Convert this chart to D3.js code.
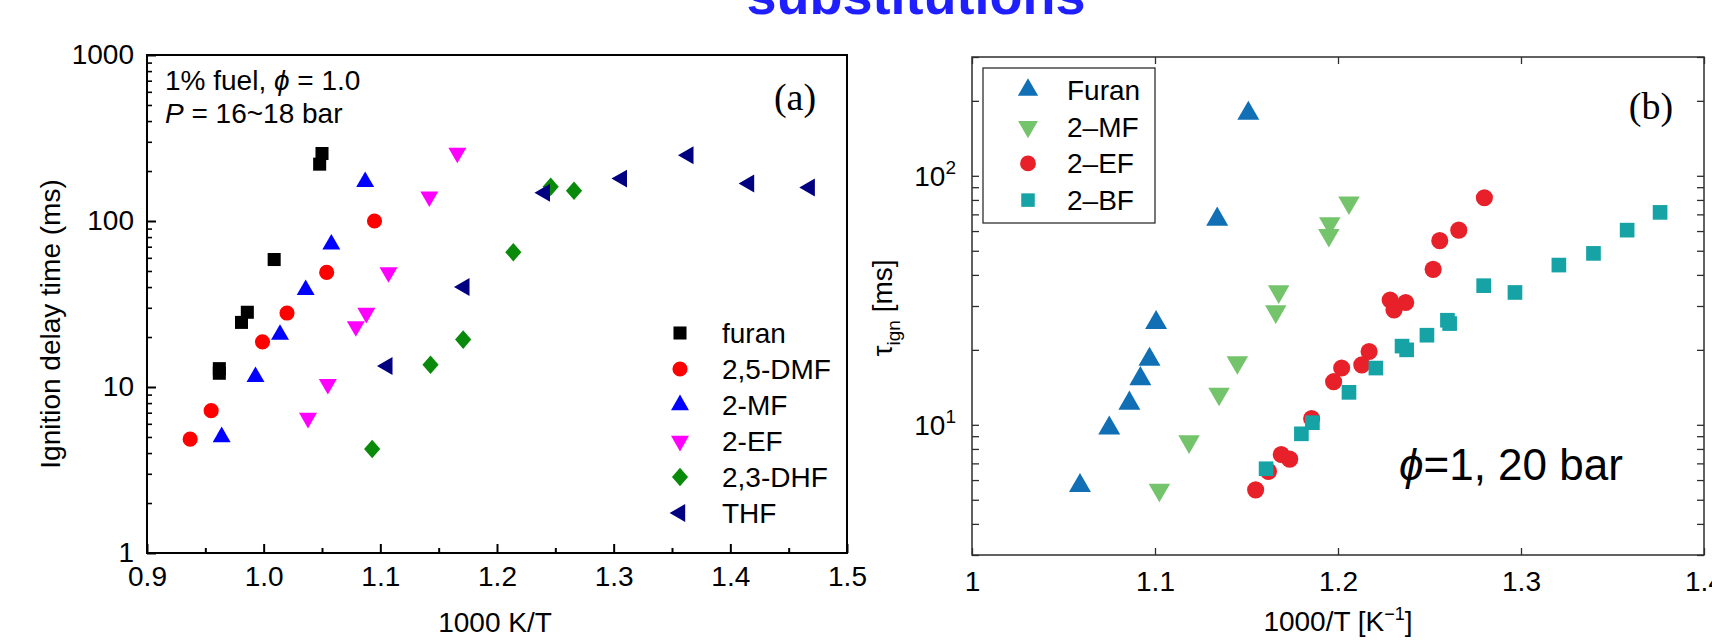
<!DOCTYPE html>
<html>
<head>
<meta charset="utf-8">
<script src="https://cdn.jsdelivr.net/npm/d3@7"></script>
<style>
  body { margin: 0; background: #fff; }
  svg { display: block; }
</style>
</head>
<body>
<script>
// ---- panel (a): ignition delay (ms) vs 1000 K/T ----
const namesA = ["furan", "2,5-DMF", "2-MF", "2-EF", "2,3-DHF", "THF"];
const furanA = [[1.050, 255], [1.048, 220], [1.009, 58.6], [0.986, 28.2], [0.981, 24.5], [0.962, 12.9], [0.962, 12.1]];
const dmfA   = [[1.095, 100], [1.054, 49], [1.020, 27.9], [0.999, 18.7], [0.955, 7.2], [0.937, 4.85]];
const mfA    = [[1.087, 172], [1.058, 72.4], [1.036, 38.5], [1.014, 20.7], [0.993, 11.5], [0.964, 5.0]];
const efA    = [[1.166, 257], [1.142, 140], [1.107, 49], [1.088, 27.9], [1.079, 23.2], [1.055, 10.4], [1.038, 6.5]];
const dhfA   = [[1.246, 161], [1.266, 152], [1.214, 64.9], [1.171, 19.3], [1.143, 13.6], [1.093, 4.23]];
const thfA   = [[1.364, 249], [1.307, 180], [1.241, 148], [1.416, 168], [1.468, 159], [1.172, 40], [1.106, 13.4]];
const xTicksA = [0.9, 1.0, 1.1, 1.2, 1.3, 1.4, 1.5];
const xMinorA = [0.95, 1.05, 1.15, 1.25, 1.35, 1.45];
const yTicksA = [1, 10, 100, 1000];
const yMinorA = [2, 3, 4, 5, 6, 7, 8, 9, 20, 30, 40, 50, 60, 70, 80, 90, 200, 300, 400, 500, 600, 700, 800, 900];

// ---- panel (b): tau_ign (ms) vs 1000/T ----
const namesB = ["Furan", "2\u2013MF", "2\u2013EF", "2\u2013BF"];
const furanB = [[1.151, 178], [1.134, 66.9], [1.1006, 25.7], [1.097, 18.3], [1.092, 15.3], [1.086, 12.2], [1.075, 9.7], [1.059, 5.7]];
const mfB    = [[1.206, 78], [1.1955, 64.4], [1.195, 57.8], [1.1676, 34.3], [1.166, 28.5], [1.145, 17.8], [1.135, 13.3], [1.1186, 8.57], [1.1024, 5.48]];
const efB    = [[1.280, 81.6], [1.266, 60.5], [1.2556, 54.9], [1.252, 42.1], [1.2285, 31.7], [1.237, 31.0], [1.2306, 28.9],
                [1.217, 19.7], [1.213, 17.4], [1.202, 16.9], [1.1976, 14.9], [1.1856, 10.6], [1.1736, 7.28], [1.169, 7.6],
                [1.162, 6.5], [1.155, 5.48]];
const bfB    = [[1.376, 71.3], [1.358, 60.5], [1.3396, 48.8], [1.3207, 43.8], [1.2967, 34.0], [1.2796, 36.2], [1.2598, 26.3],
                [1.261, 25.5], [1.2486, 22.9], [1.2375, 20.0], [1.235, 20.7], [1.2207, 16.9], [1.206, 13.5], [1.186, 10.2],
                [1.180, 9.2], [1.1607, 6.66]];
const xTicksB = [1, 1.1, 1.2, 1.3, 1.4];
const yTicksB = [10, 100];
const yMinorB = [3, 4, 5, 6, 7, 8, 9, 20, 30, 40, 50, 60, 70, 80, 90, 200, 300];

const FONT = "'Liberation Sans', Arial, Helvetica, sans-serif";
const SERIF = "'Liberation Serif', 'Times New Roman', serif";

const svg = d3.select("body").append("svg")
    .attr("width", 1712)
    .attr("height", 640);

// slide title, cut off at the top edge
svg.append("text")
    .attr("x", 916).attr("y", 14)
    .attr("text-anchor", "middle")
    .attr("font-family", FONT)
    .attr("font-weight", "bold")
    .attr("font-size", 54)
    .attr("fill", "#1e1eff")
    .text("substitutions");

// diamond a bit taller than wide
const tallDiamond = {
    draw(ctx, size) {
        const a = Math.sqrt(size / 2.3), b = a * 1.15;
        ctx.moveTo(0, -b); ctx.lineTo(a, 0); ctx.lineTo(0, b); ctx.lineTo(-a, 0); ctx.closePath();
    }
};

function styleAxis(g, size) {
    g.attr("font-family", FONT).attr("font-size", size);
    g.select(".domain").remove();
    g.selectAll("text").attr("fill", "#000");
}

// ================= panel (a) =================
const xA = d3.scaleLinear().domain([0.9, 1.5]).range([147, 847]);
const yA = d3.scaleLog().domain([1, 1000]).range([553, 55]);

const ga = svg.append("g");

ga.append("g")
    .attr("transform", `translate(0, ${yA(1)})`)
    .call(d3.axisBottom(xA).tickValues(xTicksA).tickFormat(d3.format(".1f")).tickSize(-9).tickPadding(13))
    .call(g => styleAxis(g, 28))
    .call(g => g.selectAll("line").attr("stroke", "#000").attr("stroke-width", 2));
ga.append("g")
    .attr("transform", `translate(0, ${yA(1)})`)
    .call(d3.axisBottom(xA).tickValues(xMinorA).tickFormat("").tickSize(-5))
    .call(g => styleAxis(g, 28))
    .call(g => g.selectAll("line").attr("stroke", "#000").attr("stroke-width", 2));

ga.append("g")
    .attr("transform", `translate(${xA(0.9)}, 0)`)
    .call(d3.axisLeft(yA).tickValues(yTicksA).tickFormat(d3.format("d")).tickSize(-9).tickPadding(13))
    .call(g => styleAxis(g, 28))
    .call(g => g.selectAll("line").attr("stroke", "#000").attr("stroke-width", 2));
ga.append("g")
    .attr("transform", `translate(${xA(0.9)}, 0)`)
    .call(d3.axisLeft(yA).tickValues(yMinorA).tickFormat("").tickSize(-5))
    .call(g => styleAxis(g, 28))
    .call(g => g.selectAll("line").attr("stroke", "#000").attr("stroke-width", 1.6));

ga.append("rect")
    .attr("x", xA(0.9)).attr("y", yA(1000))
    .attr("width", xA(1.5) - xA(0.9)).attr("height", yA(1) - yA(1000))
    .attr("fill", "none").attr("stroke", "#000").attr("stroke-width", 2);

const seriesA = [
    {data: furanA, type: d3.symbolSquare, size: 170, rot: 0, color: "#000000"},
    {data: dmfA, type: d3.symbolCircle, size: 180, rot: 0, color: "#ff0000"},
    {data: mfA, type: d3.symbolTriangle, size: 140, rot: 0, color: "#0000ff"},
    {data: efA, type: d3.symbolTriangle, size: 140, rot: 180, color: "#ff00ff"},
    {data: dhfA, type: tallDiamond, size: 150, rot: 0, color: "#0a8a0a"},
    {data: thfA, type: d3.symbolTriangle, size: 140, rot: -90, color: "#000080"}
];

seriesA.forEach((s, i) => {
    const path = d3.symbol().type(s.type).size(s.size)();
    ga.append("g").selectAll("path")
        .data(s.data)
        .enter()
        .append("path")
            .attr("d", path)
            .attr("fill", s.color)
            .attr("transform", d => `translate(${xA(d[0])}, ${yA(d[1])}) rotate(${s.rot})`);

    // legend row
    const ly = 333 + i * 36;
    ga.append("path")
        .attr("d", path)
        .attr("fill", s.color)
        .attr("transform", `translate(680, ${ly}) rotate(${s.rot})`);
    ga.append("text")
        .attr("x", 722).attr("y", ly + 10)
        .attr("font-family", FONT).attr("font-size", 28)
        .text(namesA[i]);
});

ga.append("text")
    .attr("transform", "translate(50, 324) rotate(-90)")
    .attr("text-anchor", "middle").attr("dy", "0.35em")
    .attr("font-family", FONT).attr("font-size", 28)
    .text("Ignition delay time (ms)");

ga.append("text")
    .attr("x", (xA(0.9) + xA(1.5)) / 2 - 2).attr("y", 632)
    .attr("text-anchor", "middle")
    .attr("font-family", FONT).attr("font-size", 28)
    .text("1000 K/T");

const noteA = ga.append("g").attr("font-family", FONT).attr("font-size", 28);
noteA.append("text").attr("x", 165).attr("y", 90)
    .call(t => {
        t.append("tspan").text("1% fuel, ");
        t.append("tspan").attr("font-style", "italic").text("\u03D5");
        t.append("tspan").text(" = 1.0");
    });
noteA.append("text").attr("x", 165).attr("y", 123)
    .call(t => {
        t.append("tspan").attr("font-style", "italic").text("P");
        t.append("tspan").text(" = 16~18 bar");
    });

ga.append("text")
    .attr("x", 795).attr("y", 110)
    .attr("text-anchor", "middle")
    .attr("font-family", SERIF)
    .attr("font-size", 38)
    .text("(a)");

// ================= panel (b) =================
const xB = d3.scaleLinear().domain([1, 1.4]).range([972, 1704]);
const yB = d3.scaleLog().domain([3, 300]).range([555, 57]);

const gb = svg.append("g");
const frameColor = "#2e2e2e";

gb.append("g")
    .attr("transform", `translate(0, ${yB(3)})`)
    .call(d3.axisBottom(xB).tickValues(xTicksB).tickFormat(d3.format("~g")).tickSize(-7).tickPadding(16))
    .call(g => styleAxis(g, 28))
    .call(g => g.selectAll("line").attr("stroke", frameColor).attr("stroke-width", 1.3));
gb.append("g")
    .attr("transform", `translate(0, ${yB(300)})`)
    .call(d3.axisTop(xB).tickValues(xTicksB).tickFormat("").tickSize(-7))
    .call(g => styleAxis(g, 28))
    .call(g => g.selectAll("line").attr("stroke", frameColor).attr("stroke-width", 1.3));

[[d3.axisLeft, xB(1)], [d3.axisRight, xB(1.4)]].forEach(([axisFn, x]) => {
    gb.append("g")
        .attr("transform", `translate(${x}, 0)`)
        .call(axisFn(yB).tickValues(yTicksB.concat(yMinorB)).tickFormat("").tickSize(-7))
        .call(g => styleAxis(g, 28))
        .call(g => g.selectAll("line").attr("stroke", frameColor).attr("stroke-width", 1.3));
});

// 10^1, 10^2 labels
gb.append("g").selectAll("text")
    .data(yTicksB)
    .enter()
    .append("text")
        .attr("x", xB(1) - 16)
        .attr("y", d => yB(d) + 10)
        .attr("text-anchor", "end")
        .attr("font-family", FONT).attr("font-size", 28)
        .call(t => {
            t.append("tspan").text("10");
            t.append("tspan").attr("dy", -12).attr("font-size", 19).text(d => Math.round(Math.log10(d)));
        });

gb.append("rect")
    .attr("x", xB(1)).attr("y", yB(300))
    .attr("width", xB(1.4) - xB(1)).attr("height", yB(3) - yB(300))
    .attr("fill", "none").attr("stroke", frameColor).attr("stroke-width", 1.5);

const seriesB = [
    {data: furanB, type: d3.symbolTriangle, size: 210, rot: 0, color: "#1170b5"},
    {data: mfB, type: d3.symbolTriangle, size: 200, rot: 180, color: "#74c46b"},
    {data: efB, type: d3.symbolCircle, size: 230, rot: 0, color: "#e8202a"},
    {data: bfB, type: d3.symbolSquare, size: 215, rot: 0, color: "#16a3a6"}
];

seriesB.forEach(s => {
    const path = d3.symbol().type(s.type).size(s.size)();
    gb.append("g").selectAll("path")
        .data(s.data)
        .enter()
        .append("path")
            .attr("d", path)
            .attr("fill", s.color)
            .attr("transform", d => `translate(${xB(d[0])}, ${yB(d[1])}) rotate(${s.rot})`);
});

// legend box
const legB = gb.append("g");
legB.append("rect")
    .attr("x", 983).attr("y", 68).attr("width", 172).attr("height", 155)
    .attr("fill", "#fff").attr("stroke", frameColor).attr("stroke-width", 1.3);
seriesB.forEach((s, i) => {
    const ly = 90 + i * 36.7;
    legB.append("path")
        .attr("d", d3.symbol().type(s.type).size(s.size * 0.85)())
        .attr("fill", s.color)
        .attr("transform", `translate(1028, ${ly}) rotate(${s.rot})`);
    legB.append("text")
        .attr("x", 1067).attr("y", ly + 10)
        .attr("font-family", FONT).attr("font-size", 28)
        .text(namesB[i]);
});

gb.append("text")
    .attr("x", 1651).attr("y", 119)
    .attr("text-anchor", "middle")
    .attr("font-family", SERIF)
    .attr("font-size", 38)
    .text("(b)");

gb.append("text")
    .attr("x", 1399).attr("y", 480)
    .attr("font-family", FONT).attr("font-size", 44)
    .call(t => {
        t.append("tspan").attr("font-style", "italic").text("\u03D5");
        t.append("tspan").text("=1, 20 bar");
    });

gb.append("text")
    .attr("x", xB(1.2)).attr("y", 631)
    .attr("text-anchor", "middle")
    .attr("font-family", FONT).attr("font-size", 28)
    .call(t => {
        t.append("tspan").text("1000/T [K");
        t.append("tspan").attr("dy", -11).attr("font-size", 18).text("\u22121");
        t.append("tspan").attr("dy", 11).text("]");
    });

gb.append("text")
    .attr("transform", "translate(892, 308) rotate(-90)")
    .attr("text-anchor", "middle")
    .attr("font-family", FONT).attr("font-size", 28)
    .call(t => {
        t.append("tspan").text("\u03C4");
        t.append("tspan").attr("dy", 8).attr("font-size", 19).text("ign");
        t.append("tspan").attr("dy", -8).text(" [ms]");
    });
</script>
</body>
</html>
